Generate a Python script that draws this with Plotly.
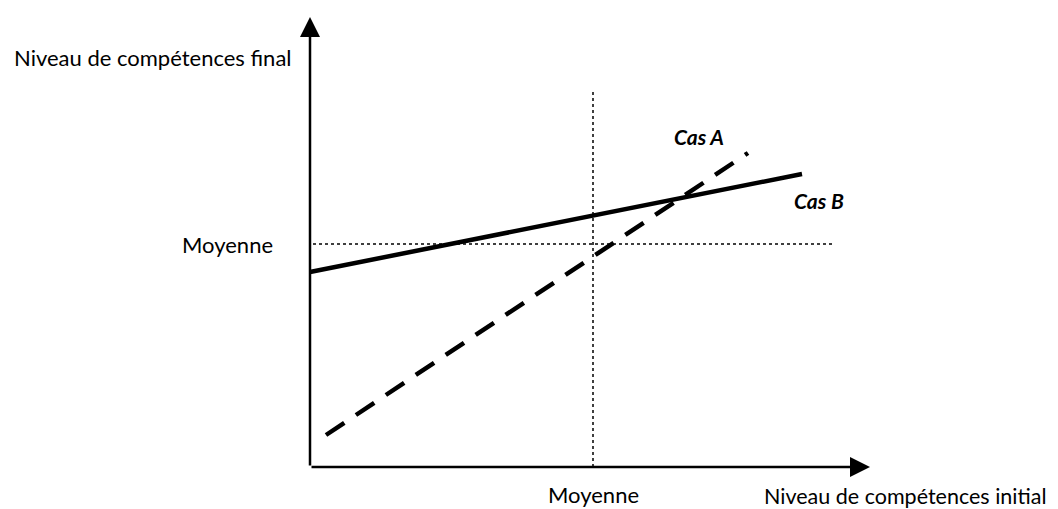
import plotly.graph_objects as go

# Conceptual data (units: origin at axis corner)
x_mean = 283
y_mean = 223
cas_a_x = [16, 438]
cas_a_y = [32, 314]
cas_b_x = [0, 492]
cas_b_y = [195, 293]
x_axis_end = 560
y_axis_end = 450

FONT = "Lato"
FS = 22
FSB = 21

fig = go.Figure()
# Dotted mean lines
fig.add_trace(go.Scatter(x=[3, 523], y=[y_mean, y_mean], mode="lines",
                         line=dict(color="black", width=1.5, dash="dot"), hoverinfo="skip"))
fig.add_trace(go.Scatter(x=[x_mean, x_mean], y=[0, 375], mode="lines",
                         line=dict(color="black", width=1.5, dash="dot"), hoverinfo="skip"))
# Cas B solid
fig.add_trace(go.Scatter(x=cas_b_x, y=cas_b_y, mode="lines",
                         line=dict(color="black", width=4.5), hoverinfo="skip"))
# Cas A dashed
fig.add_trace(go.Scatter(x=cas_a_x, y=cas_a_y, mode="lines",
                         line=dict(color="black", width=4.5, dash="22px,14px"), hoverinfo="skip"))

annotations = [
    # axes arrows
    dict(x=x_axis_end, y=0, ax=0, ay=0, xref="x", yref="y", axref="x", ayref="y",
         showarrow=True, arrowhead=2, arrowsize=1.6, arrowwidth=2.5, arrowcolor="black", text=""),
    dict(x=0, y=y_axis_end, ax=0, ay=0, xref="x", yref="y", axref="x", ayref="y",
         showarrow=True, arrowhead=2, arrowsize=1.6, arrowwidth=2.5, arrowcolor="black", text=""),
    dict(x=-298, y=410, xref="x", yref="y", text="Niveau de compétences final", showarrow=False,
         xanchor="left", font=dict(family=FONT, size=FS, color="black")),
    dict(x=-35, y=y_mean, xref="x", yref="y", text="Moyenne", showarrow=False,
         xanchor="right", font=dict(family=FONT, size=FS, color="black")),
    dict(x=x_mean, y=-27, xref="x", yref="y", text="Moyenne", showarrow=False,
         xanchor="center", font=dict(family=FONT, size=FS, color="black")),
    dict(x=737, y=-29, xref="x", yref="y", text="Niveau de compétences initial", showarrow=False,
         xanchor="right", borderpad=0, font=dict(family=FONT, size=21.5, color="black")),
    dict(x=389, y=331, xref="x", yref="y", text="<b><i>Cas A</i></b>", showarrow=False,
         xanchor="center", font=dict(family=FONT, size=FSB, color="black")),
    dict(x=509, y=267, xref="x", yref="y", text="<b><i>Cas B</i></b>", showarrow=False,
         xanchor="center", font=dict(family=FONT, size=FSB, color="black")),
]

# The page body adds an 8px offset; size the figure to the visible area.
fig.update_layout(
    width=1050, height=501,
    margin=dict(l=0, r=0, t=0, b=0),
    paper_bgcolor="white", plot_bgcolor="white",
    showlegend=False,
    xaxis=dict(range=[-302, 748], visible=False, fixedrange=True),
    yaxis=dict(range=[-42, 459], visible=False, fixedrange=True),
    annotations=annotations,
)

fig.write_html("out.html")
